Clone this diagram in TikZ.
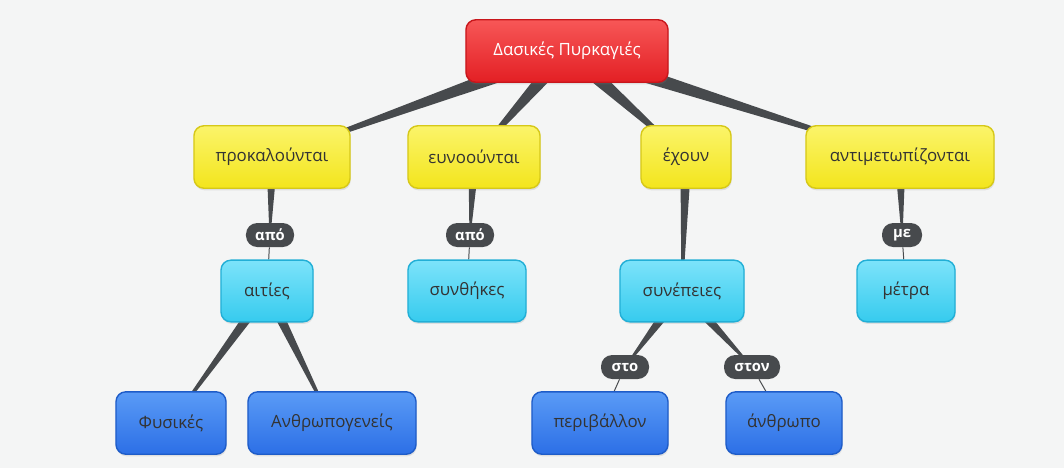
\documentclass[tikz,border=0pt]{standalone}
\usepackage{fontspec}
\setmainfont{Open Sans}
\usetikzlibrary{calc,backgrounds,shadows}

\definecolor{bgcol}{HTML}{F4F5F5}
\definecolor{linkcol}{HTML}{474A4D}
\definecolor{redtop}{HTML}{F75757}
\definecolor{redbot}{HTML}{E31F24}
\definecolor{redline}{HTML}{C8161B}
\definecolor{yeltop}{HTML}{FBF46A}
\definecolor{yelbot}{HTML}{F3E51C}
\definecolor{yelline}{HTML}{D6C818}
\definecolor{cyantop}{HTML}{7CE3FA}
\definecolor{cyanbot}{HTML}{36CBEE}
\definecolor{cyanline}{HTML}{22AFD6}
\definecolor{bluetop}{HTML}{5A9BF6}
\definecolor{bluebot}{HTML}{2C6FE6}
\definecolor{blueline}{HTML}{1E5CC8}
\definecolor{txtcol}{HTML}{333333}

% tapered link: wide at the first node, thin at the second
\newcommand{\taper}[3][5pt]{%
  \fill[linkcol] ($(#2.center)!#1!90:(#3.center)$) -- ($(#2.center)!#1!-90:(#3.center)$)
    -- ($(#3.center)!0.4pt!90:(#2.center)$) -- ($(#3.center)!0.4pt!-90:(#2.center)$) -- cycle;}

\begin{document}
\begin{tikzpicture}[x=0.025cm,y=-0.025cm,
    every node/.style={font=\fontsize{12}{14}\selectfont,text=txtcol},
    box/.style={rounded corners=7pt,line width=1pt,minimum height=1.56cm,
      drop shadow={opacity=0.18,shadow xshift=0.5pt,shadow yshift=-1.5pt}},
    topic/.style={box,draw=redline,top color=redtop,bottom color=redbot,text=white,minimum width=5.05cm},
    verb/.style={box,draw=yelline,top color=yeltop,bottom color=yelbot},
    idea/.style={box,draw=cyanline,top color=cyantop,bottom color=cyanbot,minimum height=1.54cm},
    leaf/.style={box,draw=blueline,top color=bluetop,bottom color=bluebot},
    link/.style={fill=linkcol,rounded corners=8pt,text=white,minimum height=0.6cm,
      inner xsep=5pt,font=\fontsize{10.5}{12}\selectfont\bfseries},
    thin/.style={draw=linkcol,line width=0.7pt}]

  \node[topic] (dp) at (567,51) {Δασικές Πυρκαγιές};

  \node[verb,minimum width=3.9cm]  (prok) at (272,157) {προκαλούνται};
  \node[verb,minimum width=3.3cm]  (evno) at (474,157) {ευνοούνται};
  \node[verb,minimum width=2.25cm] (exou) at (686,157) {έχουν};
  \node[verb,minimum width=4.7cm]  (anti) at (900,157) {αντιμετωπίζονται};

  \node[link,minimum width=1.2cm] (apo1) at (270,235) {από};
  \node[link,minimum width=1.2cm] (apo2) at (470,235) {από};
  \node[link,minimum width=1cm]   (me)   at (902,235) {με};

  \node[idea,minimum width=2.3cm]  (aities) at (267,291) {αιτίες};
  \node[idea,minimum width=2.95cm] (synth)  at (467,291) {συνθήκες};
  \node[idea,minimum width=3.1cm]  (synep)  at (682,291) {συνέπειες};
  \node[idea,minimum width=2.45cm] (metra)  at (906,291) {μέτρα};

  \node[link,minimum width=1.2cm] (sto)  at (625,367) {στο};
  \node[link,minimum width=1.4cm] (ston) at (752,367) {στον};

  \node[leaf,minimum width=2.75cm] (fys)   at (171,423) {Φυσικές};
  \node[leaf,minimum width=4.2cm]  (anthr) at (332,423) {Ανθρωπογενείς};
  \node[leaf,minimum width=3.4cm]  (peri)  at (600,423) {περιβάλλον};
  \node[leaf,minimum width=2.9cm]  (anth)  at (784,423) {άνθρωπο};

  \begin{pgfonlayer}{background}
    \fill[bgcol] (0,0) rectangle (1064,468);
    \taper[6pt]{dp}{prok}
    \taper[6pt]{dp}{evno}
    \taper[6pt]{dp}{exou}
    \taper[6pt]{dp}{anti}
    \taper[4pt]{prok}{apo1}
    \taper[4pt]{evno}{apo2}
    \taper[4pt]{anti}{me}
    \taper[4pt]{exou}{synep}
    \taper[4pt]{aities}{fys}
    \taper[4pt]{aities}{anthr}
    \taper[4.5pt]{synep}{sto}
    \taper[4.5pt]{synep}{ston}
    \path[thin] (apo1) -- (aities);
    \path[thin] (apo2) -- (synth);
    \path[thin] (me) -- (metra);
    \path[thin] (sto) -- (peri);
    \path[thin] (ston) -- (anth);
  \end{pgfonlayer}
\end{tikzpicture}
\end{document}
